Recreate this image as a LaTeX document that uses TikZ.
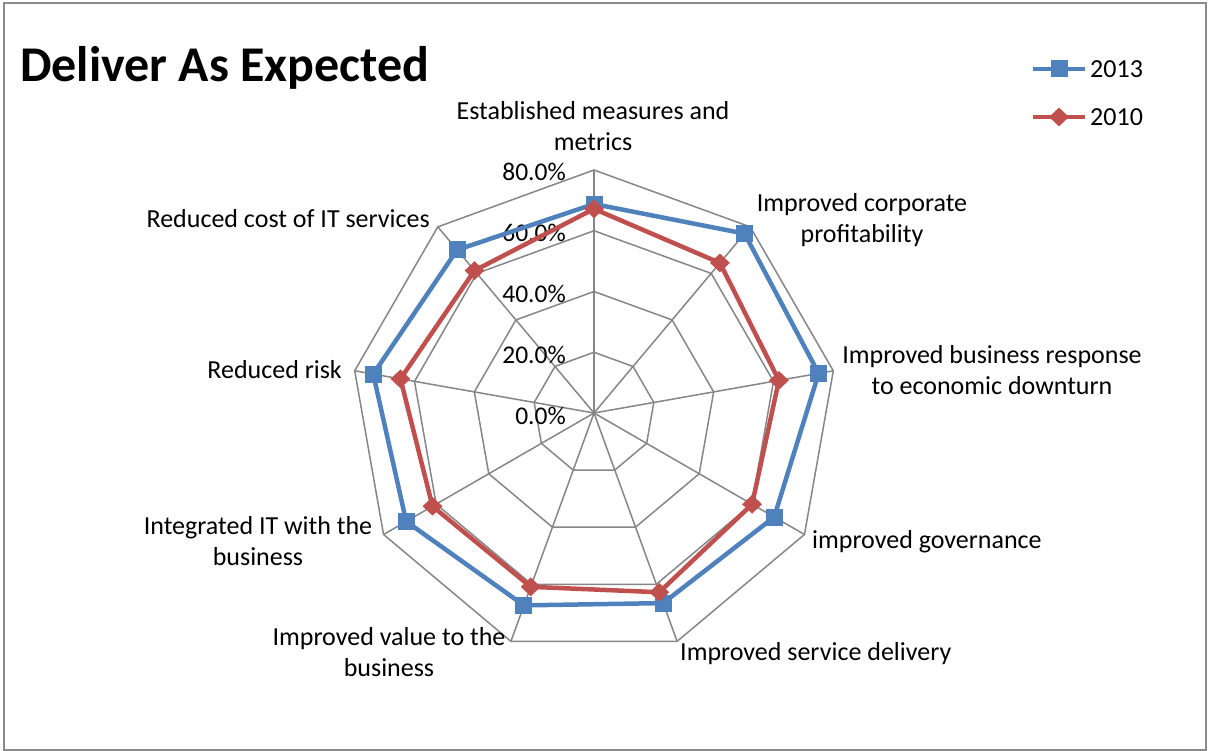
\documentclass[tikz,border=0pt]{standalone}
\usepackage{fontspec}
\setmainfont{Carlito}
\usetikzlibrary{shapes.geometric}
\definecolor{sblue}{HTML}{4F81BD}
\definecolor{sred}{HTML}{C0504D}
\definecolor{gridgray}{HTML}{868686}
\definecolor{framegray}{HTML}{8C8C8C}
\begin{document}
\begin{tikzpicture}[x=1pt,y=-1pt,
  lbl/.style={font=\fontsize{26}{31}\selectfont, inner sep=0pt, align=center},
  tick/.style={font=\fontsize{25.5}{31}\selectfont, inner sep=0pt},
  gridline/.style={draw=gridgray, line width=1.5pt},
  bluser/.style={draw=sblue, line width=4.5pt, line join=round},
  redser/.style={draw=sred, line width=4.5pt, line join=round},
  sqmark/.style={rectangle, fill=sblue, draw=none, minimum size=17pt, inner sep=0pt},
  dmmark/.style={diamond, fill=sred, draw=none, minimum width=20pt, minimum height=19pt, inner sep=0pt}]
\useasboundingbox (0,0) rectangle (1208,751);
\draw[framegray, line width=1.5pt] (4,3) rectangle (1206,750);
% title
\node[font=\fontsize{50}{56}\selectfont\bfseries, inner sep=0pt, anchor=west] (title) at (20,68) {Deliver As Expected};
% center and grid
\coordinate (O) at (594,413);
\foreach \k in {0,...,8}{
  \coordinate (v\k) at ({594+243*sin(40*\k)},{413-243*cos(40*\k)});
}
\foreach \v in {20,40,60,80}{
  \pgfmathsetmacro{\r}{\v*3.0375}
  \draw[gridline] ({594},{413-\r}) \foreach \k in {1,...,8}{ -- ({594+\r*sin(40*\k)},{413-\r*cos(40*\k)}) } -- cycle;
}
\foreach \k in {0,...,8}{ \draw[gridline] (O) -- (v\k); }
% tick labels
\node[tick, anchor=east] (t80) at (566,172) {80.0\%};
\node[tick, anchor=east] (t60) at (566,233) {60.0\%};
\node[tick, anchor=east] (t40) at (566,294) {40.0\%};
\node[tick, anchor=east] (t20) at (566,355) {20.0\%};
\node[tick, anchor=east] (t00) at (566,416) {0.0\%};
% data
\foreach \k/\a/\b in {0/68.8/67.2, 1/77.1/64.5, 2/75.1/61.8, 3/68.5/60.1, 4/66.6/62.8, 5/67.4/60.9, 6/71.4/61.4, 7/73.8/64.7, 8/70.1/61.2}{
  \coordinate (b\k) at ({594+\a*3.0375*sin(40*\k)},{413-\a*3.0375*cos(40*\k)});
  \coordinate (r\k) at ({594+\b*3.0375*sin(40*\k)},{413-\b*3.0375*cos(40*\k)});
}
\draw[bluser] (b0) -- (b1) -- (b2) -- (b3) -- (b4) -- (b5) -- (b6) -- (b7) -- (b8) -- cycle;
\foreach \k in {0,...,8}{ \node[sqmark] (bm\k) at (b\k) {}; }
\draw[redser] (r0) -- (r1) -- (r2) -- (r3) -- (r4) -- (r5) -- (r6) -- (r7) -- (r8) -- cycle;
\foreach \k in {0,...,8}{ \node[dmmark] (rm\k) at (r\k) {}; }
% axis labels
\node[lbl] (a0) at (593,126) {Established measures and\\metrics};
\node[lbl] (a1) at (862,220) {Improved corporate\\profitability};
\node[lbl] (a2) at (992,370) {Improved business response\\to economic downturn};
\node[lbl, anchor=west] (a3) at (812,542) {improved governance};
\node[lbl, anchor=west] (a4) at (680,654) {Improved service delivery};
\node[lbl] (a5) at (389,652) {Improved value to the\\business};
\node[lbl] (a6) at (258,541) {Integrated IT with the\\business};
\node[lbl, anchor=east] (a7) at (342,370) {Reduced risk};
\node[lbl, anchor=east] (a8) at (430,219) {Reduced cost of IT services};
% legend
\coordinate (l1a) at (1033,69); \coordinate (l1b) at (1085,69);
\coordinate (l2a) at (1033,117); \coordinate (l2b) at (1085,117);
\draw[bluser, line width=4pt] (l1a) -- (l1b);
\node[sqmark] (lm1) at (1059,69) {};
\node[lbl, anchor=west] (lt1) at (1090,69) {2013};
\draw[redser, line width=4pt] (l2a) -- (l2b);
\node[dmmark] (lm2) at (1059,117) {};
\node[lbl, anchor=west] (lt2) at (1090,117) {2010};
\end{tikzpicture}
\end{document}
